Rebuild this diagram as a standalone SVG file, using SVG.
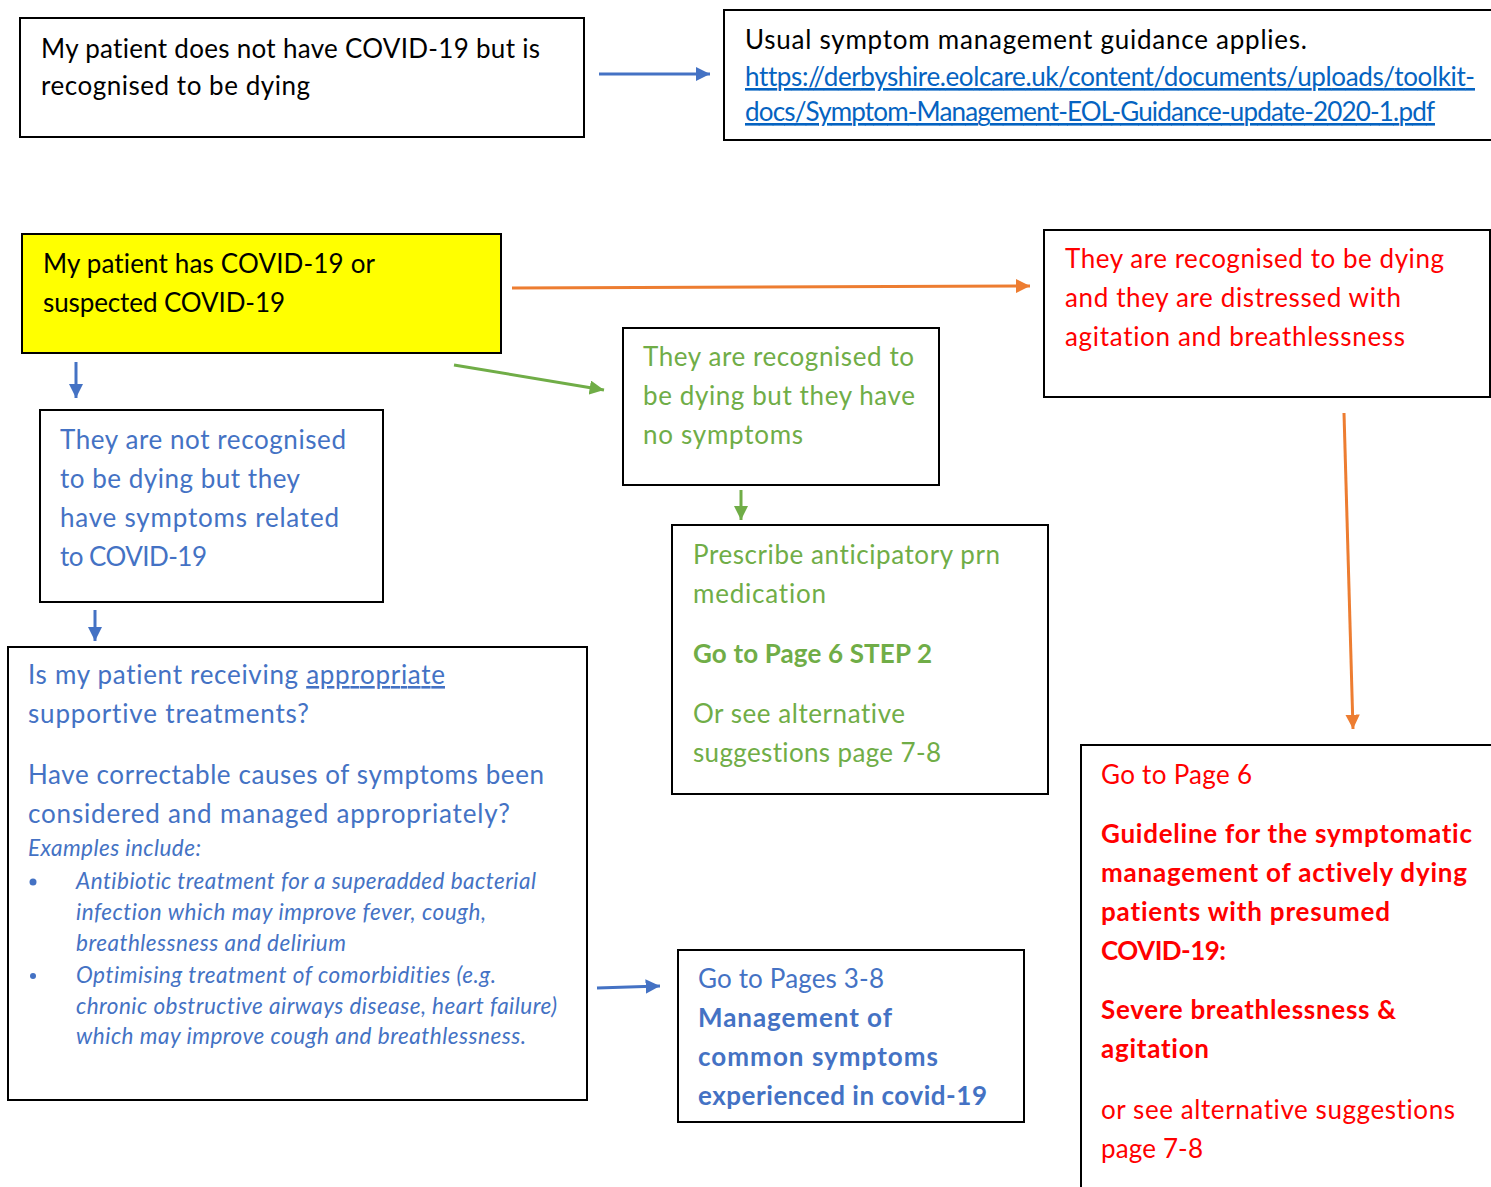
<svg xmlns="http://www.w3.org/2000/svg" width="1491" height="1187" viewBox="0 0 1491 1187">
<defs>
<style>
.box{fill:#fff;stroke:#000;stroke-width:2}
.t{font-family:Lato,"Open Sans","Liberation Sans",sans-serif;font-size:26px;font-variant-ligatures:none}
.k{fill:#000}.b{fill:#4472C4}.g{fill:#70AD47}.r{fill:#FF0000}.l{fill:#0563C1;text-decoration:underline}
.bold{font-weight:bold}
.it{font-style:italic;font-size:22.5px}
.c{fill:none;stroke-width:3}
</style>
<marker id="mb" viewBox="0 0 10 10" refX="10" refY="5" markerWidth="4.8" markerHeight="4.8" orient="auto" markerUnits="strokeWidth"><path d="M0,0L10,5L0,10z" fill="#4472C4"/></marker>
<marker id="mg" viewBox="0 0 10 10" refX="10" refY="5" markerWidth="4.8" markerHeight="4.8" orient="auto" markerUnits="strokeWidth"><path d="M0,0L10,5L0,10z" fill="#70AD47"/></marker>
<marker id="mo" viewBox="0 0 10 10" refX="10" refY="5" markerWidth="4.8" markerHeight="4.8" orient="auto" markerUnits="strokeWidth"><path d="M0,0L10,5L0,10z" fill="#ED7D31"/></marker>
</defs>
<rect width="1491" height="1187" fill="#fff"/>

<g id="n1">
<rect class="box" x="20" y="18" width="564" height="119"/>
<text class="t k" x="41" y="58" textLength="499">My patient does not have COVID-19 but is</text>
<text class="t k" x="41" y="95" textLength="269">recognised to be dying</text>
</g>

<g id="n2">
<rect class="box" x="724" y="10" width="780" height="130"/>
<text class="t k" x="745" y="49" textLength="562">Usual symptom management guidance applies.</text>
<text class="t l" x="745" y="86" textLength="730">https://derbyshire.eolcare.uk/content/documents/uploads/toolkit-</text>
<text class="t l" x="745" y="121" textLength="690">docs/Symptom-Management-EOL-Guidance-update-2020-1.pdf</text>
</g>

<g id="n3">
<rect x="22" y="234" width="479" height="119" fill="#FFFF00" stroke="#000" stroke-width="2"/>
<text class="t k" x="43" y="273" textLength="332">My patient has COVID-19 or</text>
<text class="t k" x="43" y="312" textLength="242">suspected COVID-19</text>
</g>

<g id="n4">
<rect class="box" x="40" y="410" width="343" height="192"/>
<text class="t b" x="60" y="449" textLength="286">They are not recognised</text>
<text class="t b" x="60" y="488" textLength="240">to be dying but they</text>
<text class="t b" x="60" y="527" textLength="279">have symptoms related</text>
<text class="t b" x="60" y="566" textLength="147">to COVID-19</text>
</g>

<g id="n5">
<rect class="box" x="8" y="647" width="579" height="453"/>
<text class="t b" x="28" y="684" textLength="417">Is my patient receiving <tspan text-decoration="underline">appropriate</tspan></text>
<text class="t b" x="28" y="723" textLength="281">supportive treatments?</text>
<text class="t b" x="28" y="784" textLength="516">Have correctable causes of symptoms been</text>
<text class="t b" x="28" y="823" textLength="482">considered and managed appropriately?</text>
<text class="t b it" x="28" y="856" textLength="173">Examples include:</text>
<circle cx="33" cy="882" r="3.5" fill="#4472C4"/>
<text class="t b it" x="76" y="889" textLength="460">Antibiotic treatment for a superadded bacterial</text>
<text class="t b it" x="76" y="920" textLength="410">infection which may improve fever, cough,</text>
<text class="t b it" x="76" y="951" textLength="270">breathlessness and delirium</text>
<circle cx="33" cy="976" r="3" fill="#4472C4"/>
<text class="t b it" x="76" y="983" textLength="420">Optimising treatment of comorbidities (e.g.</text>
<text class="t b it" x="76" y="1014" textLength="481">chronic obstructive airways disease, heart failure)</text>
<text class="t b it" x="76" y="1044" textLength="450">which may improve cough and breathlessness.</text>
</g>

<g id="n6">
<rect class="box" x="623" y="328" width="316" height="157"/>
<text class="t g" x="643" y="366" textLength="271">They are recognised to</text>
<text class="t g" x="643" y="405" textLength="272">be dying but they have</text>
<text class="t g" x="643" y="444" textLength="160">no symptoms</text>
</g>

<g id="n7">
<rect class="box" x="672" y="525" width="376" height="269"/>
<text class="t g" x="693" y="564" textLength="307">Prescribe anticipatory prn</text>
<text class="t g" x="693" y="603" textLength="133">medication</text>
<text class="t g bold" x="693" y="663" textLength="239">Go to Page 6 STEP 2</text>
<text class="t g" x="693" y="723" textLength="212">Or see alternative</text>
<text class="t g" x="693" y="762" textLength="248">suggestions page 7-8</text>
</g>

<g id="n8">
<rect class="box" x="1044" y="230" width="446" height="167"/>
<text class="t r" x="1065" y="268" textLength="379">They are recognised to be dying</text>
<text class="t r" x="1065" y="307" textLength="336">and they are distressed with</text>
<text class="t r" x="1065" y="346" textLength="340">agitation and breathlessness</text>
</g>

<g id="n9">
<rect class="box" x="1081" y="745" width="420" height="450"/>
<text class="t r" x="1101" y="784" textLength="151">Go to Page 6</text>
<text class="t r bold" x="1101" y="843" textLength="371">Guideline for the symptomatic</text>
<text class="t r bold" x="1101" y="882" textLength="366">management of actively dying</text>
<text class="t r bold" x="1101" y="921" textLength="289">patients with presumed</text>
<text class="t r bold" x="1101" y="960" textLength="125">COVID-19:</text>
<text class="t r bold" x="1101" y="1019" textLength="295">Severe breathlessness &amp;</text>
<text class="t r bold" x="1101" y="1058" textLength="108">agitation</text>
<text class="t r" x="1101" y="1119" textLength="354">or see alternative suggestions</text>
<text class="t r" x="1101" y="1158" textLength="102">page 7-8</text>
</g>

<g id="n10">
<rect class="box" x="678" y="950" width="346" height="172"/>
<text class="t b" x="698" y="988" textLength="186">Go to Pages 3-8</text>
<text class="t b bold" x="698" y="1027" textLength="194">Management of</text>
<text class="t b bold" x="698" y="1066" textLength="240">common symptoms</text>
<text class="t b bold" x="698" y="1105" textLength="289">experienced in covid-19</text>
</g>

<g id="connectors">
<line class="c" x1="599" y1="74" x2="710" y2="74" stroke="#4472C4" marker-end="url(#mb)"/>
<line class="c" x1="512" y1="288" x2="1030" y2="286" stroke="#ED7D31" marker-end="url(#mo)"/>
<line class="c" x1="454" y1="365" x2="604" y2="390" stroke="#70AD47" marker-end="url(#mg)"/>
<line class="c" x1="76" y1="362" x2="76" y2="398" stroke="#4472C4" marker-end="url(#mb)"/>
<line class="c" x1="95" y1="610" x2="95" y2="641" stroke="#4472C4" marker-end="url(#mb)"/>
<line class="c" x1="741" y1="490" x2="741" y2="520" stroke="#70AD47" marker-end="url(#mg)"/>
<line class="c" x1="1344" y1="413" x2="1353" y2="729" stroke="#ED7D31" marker-end="url(#mo)"/>
<line class="c" x1="597" y1="988" x2="660" y2="986" stroke="#4472C4" marker-end="url(#mb)"/>
</g>
</svg>
